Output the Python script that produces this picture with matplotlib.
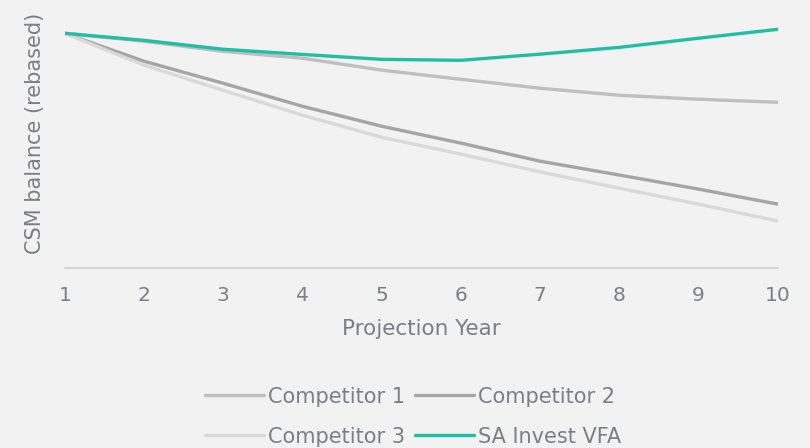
import matplotlib
matplotlib.use("Agg")
import matplotlib.pyplot as plt

years = [1, 2, 3, 4, 5, 6, 7, 8, 9, 10]
competitor_1 = [100, 96.6, 92.3, 89.4, 84.3, 80.4, 76.6, 73.6, 71.9, 70.6]
competitor_2 = [100, 88.1, 78.7, 68.9, 60.4, 53.2, 45.5, 39.6, 33.6, 27.2]
competitor_3 = [100, 86.4, 75.7, 65.1, 55.7, 48.5, 40.9, 34.0, 27.2, 20.0]
sa_invest = [100, 97.0, 93.2, 91.0, 88.9, 88.5, 91.1, 94.0, 97.9, 101.7]

BG = "#f2f2f2"
TXT = "#7b7f84"
plt.rcParams["font.family"] = ["DejaVu Sans"]

fig = plt.figure(figsize=(8.1, 4.48), dpi=100, facecolor=BG)
ax = fig.add_axes([0.080, 0.402, 0.880, 0.576], facecolor=BG)

lw = 2.4
l1, = ax.plot(years, competitor_1, color="#bfbfbf", lw=lw, solid_capstyle="round", label="Competitor 1")
l2, = ax.plot(years, competitor_2, color="#a5a5a5", lw=lw, solid_capstyle="round", label="Competitor 2")
l3, = ax.plot(years, competitor_3, color="#d9d9d9", lw=lw, solid_capstyle="round", label="Competitor 3")
l4, = ax.plot(years, sa_invest, color="#1fbfa6", lw=lw, solid_capstyle="round", label="SA Invest VFA")

ax.set_xlim(1, 10)
ax.set_ylim(0, 110)
ax.set_xticks(years)
ax.set_yticks([])
for s in ["top", "right", "left"]:
    ax.spines[s].set_visible(False)
ax.spines["bottom"].set_color("#d0d0d0")
ax.spines["bottom"].set_linewidth(1.2)
ax.tick_params(axis="x", length=0, pad=13, labelsize=14.5, labelcolor=TXT)

ax.set_xlabel("Projection Year", fontsize=15.5, color=TXT)
ax.set_ylabel("CSM balance (rebased)", fontsize=15, color=TXT)
ax.xaxis.set_label_coords(0.5, -0.198)
ax.yaxis.set_label_coords(-0.028, 0.523)

leg = fig.legend([l1, l3, l2, l4],
                 ["Competitor 1", "Competitor 3", "Competitor 2", "SA Invest VFA"],
                 ncol=2, loc="center", bbox_to_anchor=(0.51, 0.070),
                 frameon=False, fontsize=15, handlelength=2.8, handletextpad=0.2,
                 columnspacing=0.5, labelspacing=0.95)
for t in leg.get_texts():
    t.set_color(TXT)

fig.savefig("out.png", dpi=100, facecolor=BG)
